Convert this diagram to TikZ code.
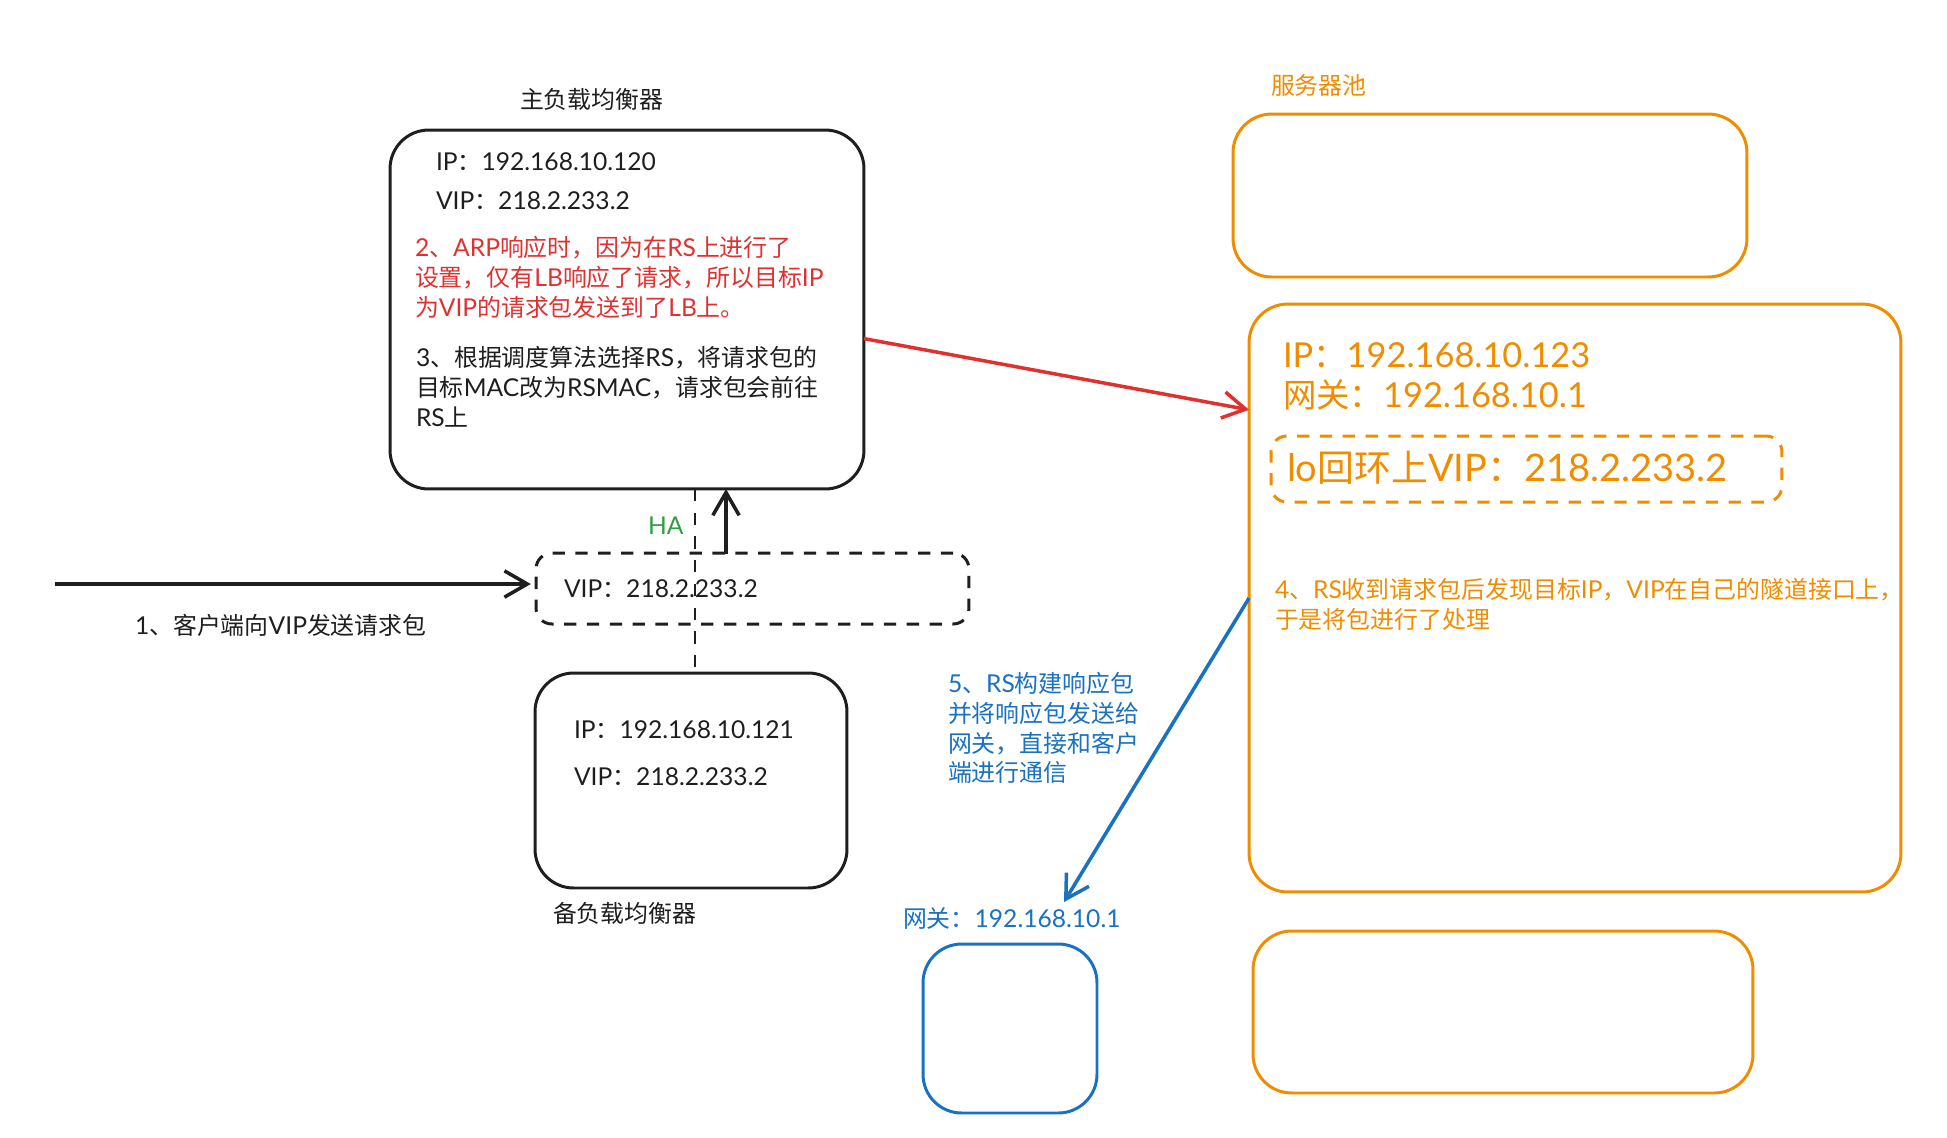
\documentclass[tikz,border=0pt]{standalone}
\usepackage{fontspec}
\usetikzlibrary{arrows.meta,positioning,calc}
\setmainfont{Lato}[Scale=1.03]
\newfontfamily\cjkfont{Noto Sans CJK SC}
\newXeTeXintercharclass\cjkclass
\newcount\cjkchar
\cjkchar="4E00
\loop
  \XeTeXcharclass\cjkchar=\cjkclass
  \ifnum\cjkchar<"9FFF \advance\cjkchar by 1
\repeat
\XeTeXcharclass"3001=\cjkclass
\XeTeXcharclass"3002=\cjkclass
\XeTeXcharclass"FF0C=\cjkclass
\XeTeXcharclass"FF1A=\cjkclass
\XeTeXinterchartokenstate=1
\XeTeXinterchartoks 0 \cjkclass={\cjkfont}
\XeTeXinterchartoks 4095 \cjkclass={\cjkfont}
\XeTeXinterchartoks \cjkclass 0={\rmfamily}
\XeTeXinterchartoks 4095 0={\rmfamily}
\definecolor{inkblack}{HTML}{1E1E1E}
\definecolor{inkred}{HTML}{E03131}
\definecolor{inkorange}{HTML}{F08C00}
\definecolor{inkblue}{HTML}{1971C2}
\definecolor{inkgreen}{HTML}{2F9E44}

\begin{document}
\begin{tikzpicture}[
    x=0.02cm, y=-0.02cm,
    every node/.style={inner sep=0pt, outer sep=0pt},
    roundbox/.style={rectangle, draw, line width=1.7pt, rounded corners=22pt},
    dashbox/.style={rectangle, draw, line width=1.7pt, rounded corners=9pt, dash pattern=on 7pt off 6pt},
    txt/.style={anchor=west, align=left, font=\fontsize{13.6}{17}\selectfont},
    bigtxt/.style={anchor=west, align=left, text=inkorange, font=\fontsize{19}{23.2}\selectfont},
    arrowline/.style={line width=2pt, -{Straight Barb[length=13pt, width=15pt]}}
]
\useasboundingbox (0,0) rectangle (1947,1137);

\node[roundbox, inkblack, minimum width=9.48cm, minimum height=7.18cm] (mainlb) at (627,309.5) {};
\node[roundbox, inkblack, minimum width=6.24cm, minimum height=4.30cm] (backuplb) at (691,780.5) {};
\node[dashbox, inkblack, minimum width=8.66cm, minimum height=1.42cm] (vipbox) at (752.5,588.5) {};
\node[roundbox, inkorange, minimum width=10.28cm, minimum height=3.26cm] (poola) at (1490,195.5) {};
\node[roundbox, inkorange, minimum width=13.04cm, minimum height=11.76cm] (rsbox) at (1575,598) {};
\node[dashbox, inkorange, minimum width=10.22cm, minimum height=1.32cm] (lobox) at (1526.5,469) {};
\node[roundbox, inkorange, minimum width=10.00cm, minimum height=3.24cm] (poolb) at (1503,1012) {};
\node[roundbox, inkblue, minimum width=3.48cm, minimum height=3.38cm] (gwbox) at (1010,1028.5) {};

\node[txt, text=inkblack] (mainlabel) at (520,99) {主负载均衡器};
\node[txt, text=inkblack] (mainip) at (436,162) {IP：192.168.10.120};
\node[txt, text=inkblack] (mainvip) at (436,201) {VIP：218.2.233.2};
\node[txt, text=inkred] (step2) at (415,277) {2、ARP响应时，因为在RS上进行了\\设置，仅有LB响应了请求，所以目标IP\\为VIP的请求包发送到了LB上。};
\node[txt, text=inkblack] (step3) at (416,387) {3、根据调度算法选择RS，将请求包的\\目标MAC改为RSMAC，请求包会前往\\RS上};
\node[txt, text=inkgreen] (halabel) at (648,526) {HA};
\node[txt, text=inkblack] (viptext) at (564,589) {VIP：218.2.233.2};
\node[txt, text=inkblack] (step1) at (135,625) {1、客户端向VIP发送请求包};
\node[txt, text=inkblack] (backupip) at (574,730) {IP：192.168.10.121};
\node[txt, text=inkblack] (backupvip) at (574,777) {VIP：218.2.233.2};
\node[txt, text=inkblack] (backuplabel) at (553,913) {备负载均衡器};
\node[txt, text=inkorange] (poollabel) at (1271,85) {服务器池};
\node[bigtxt] (rsip) at (1283,355) {IP：192.168.10.123};
\node[bigtxt] (rsgw) at (1283,395) {网关：192.168.10.1};
\node[bigtxt, font=\fontsize{21}{26}\selectfont] (rslo) at (1287,468) {lo回环上VIP：218.2.233.2};
\node[txt, text=inkorange] (step4) at (1275,604) {4、RS收到请求包后发现目标IP，VIP在自己的隧道接口上，\\于是将包进行了处理};
\node[txt, text=inkblue] (step5) at (948,728) {5、RS构建响应包\\并将响应包发送给\\网关，直接和客户\\端进行通信};
\node[txt, text=inkblue] (gwlabel) at (903,918) {网关：192.168.10.1};

\coordinate (client) at (55,584);
\coordinate (haup) at (726,554);
\coordinate (hadash) at (695,671);
\coordinate (gwtip) at (1064,902);

\draw[arrowline, inkblack, shorten >=3pt] (client) -- (client -| vipbox.west);
\draw[arrowline, inkblack] (haup) -- (haup |- mainlb.south);
\draw[inkblack, line width=1pt, dash pattern=on 7pt off 6.5pt] (hadash |- mainlb.south) -- (hadash);
\draw[arrowline, inkred] (mainlb.-7.4) -- (rsbox.150.6);
\draw[arrowline, inkblue] (rsbox.west) -- (gwtip);
\end{tikzpicture}
\end{document}
